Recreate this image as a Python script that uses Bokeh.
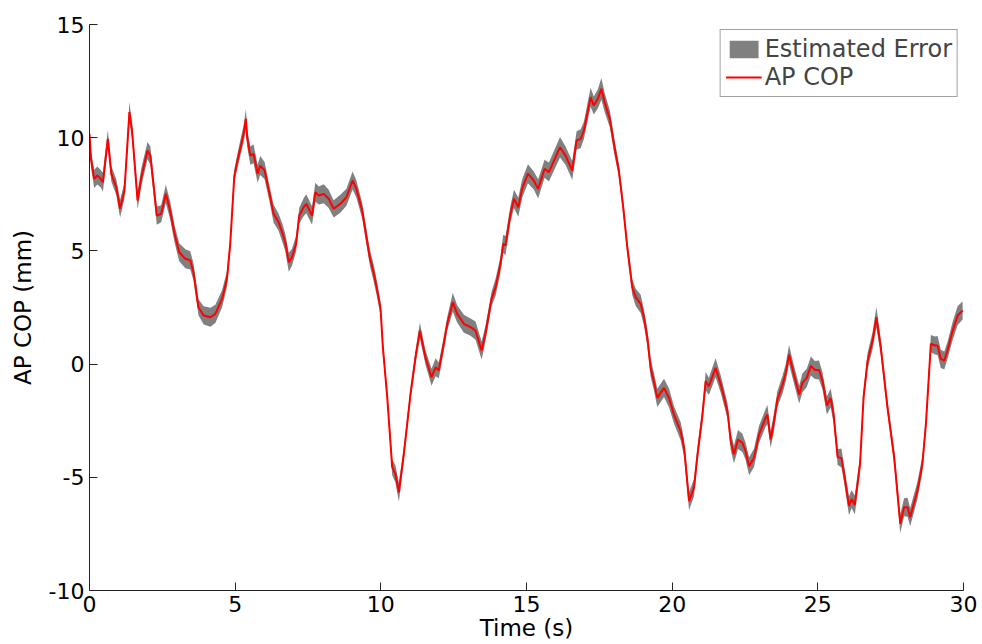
from bokeh.plotting import figure
from bokeh.models import Range1d, FixedTicker, Legend, LegendItem
from bokeh.embed import file_html
from bokeh.resources import INLINE

time_s = [
    0.00, 0.05, 0.16, 0.27, 0.39, 0.46, 0.63, 0.75, 0.92, 1.05,
    1.20, 1.37, 1.46, 1.65, 1.78, 1.99, 2.09, 2.31, 2.46, 2.62,
    2.77, 2.92, 3.08, 3.29, 3.46, 3.57, 3.74, 3.92, 4.15, 4.32,
    4.55, 4.72, 4.83, 4.97, 5.08, 5.29, 5.37, 5.41, 5.52, 5.63,
    5.77, 5.86, 6.01, 6.18, 6.32, 6.49, 6.63, 6.72, 6.84, 6.95,
    7.09, 7.20, 7.35, 7.44, 7.64, 7.75, 7.87, 8.04, 8.21, 8.38,
    8.61, 8.82, 9.03, 9.16, 9.36, 9.47, 9.62, 9.76, 9.87, 9.99,
    10.07, 10.22, 10.39, 10.50, 10.62, 10.79, 11.02, 11.19, 11.34, 11.53,
    11.74, 11.88, 11.99, 12.16, 12.28, 12.47, 12.62, 12.85, 13.08, 13.25,
    13.46, 13.59, 13.80, 13.94, 14.11, 14.20, 14.28, 14.45, 14.57, 14.72,
    14.85, 15.05, 15.25, 15.40, 15.62, 15.77, 16.15, 16.34, 16.57, 16.72,
    16.86, 16.97, 17.20, 17.31, 17.45, 17.57, 17.68, 17.86, 18.02, 18.17,
    18.32, 18.46, 18.63, 18.75, 18.92, 19.03, 19.15, 19.26, 19.37, 19.49,
    19.72, 19.89, 20.06, 20.29, 20.41, 20.58, 20.75, 20.87, 21.04, 21.15,
    21.26, 21.49, 21.67, 21.90, 22.01, 22.12, 22.26, 22.41, 22.52, 22.64,
    22.81, 22.98, 23.21, 23.27, 23.38, 23.50, 23.61, 23.79, 23.90, 24.01,
    24.18, 24.36, 24.47, 24.62, 24.76, 24.90, 25.04, 25.16, 25.31, 25.44,
    25.54, 25.68, 25.81, 25.90, 26.07, 26.16, 26.27, 26.45, 26.57, 26.71,
    26.88, 27.01, 27.16, 27.39, 27.62, 27.83, 27.96, 28.08, 28.17, 28.42,
    28.59, 28.71, 28.88, 29.02, 29.11, 29.22, 29.34, 29.45, 29.63, 29.80,
    29.97,
]

ap_cop = [
    10.17, 9.07, 8.18, 8.33, 8.18, 8.03, 9.95, 8.40, 7.81, 6.86,
    7.67, 11.13, 10.32, 7.23, 8.26, 9.43, 9.21, 6.56, 6.64, 7.52,
    6.78, 5.75, 4.94, 4.65, 4.58, 4.06, 2.51, 2.15, 2.07, 2.22,
    2.88, 3.77, 5.30, 8.30, 8.99, 10.17, 10.83, 10.02, 9.21, 9.29,
    8.41, 8.77, 8.55, 7.52, 6.64, 6.27, 5.75, 5.38, 4.50, 4.72,
    5.31, 6.56, 6.93, 7.08, 6.56, 7.59, 7.45, 7.52, 7.30, 6.86,
    7.08, 7.37, 8.11, 7.74, 6.78, 5.90, 4.72, 3.99, 3.30, 2.45,
    0.75, -1.46, -4.55, -4.85, -5.66, -3.96, -1.31, 0.30, 1.48, 0.30,
    -0.58, -0.14, -0.28, 0.90, 1.78, 2.73, 2.22, 1.78, 1.63, 1.48,
    0.60, 1.34, 2.88, 3.40, 4.43, 5.31, 5.24, 6.64, 7.30, 6.93,
    7.75, 8.41, 8.11, 7.74, 8.63, 8.48, 9.58, 9.21, 8.55, 9.88,
    9.95, 10.32, 11.79, 11.42, 11.72, 12.16, 11.57, 10.83, 9.58, 8.55,
    6.93, 5.16, 3.40, 2.95, 2.66, 2.07, 1.15, -0.16, -0.75, -1.49,
    -1.05, -1.49, -2.23, -2.96, -3.70, -6.05, -5.46, -3.99, -2.23, -0.75,
    -0.98, -0.16, -0.90, -2.08, -3.40, -3.99, -3.33, -3.48, -3.85, -4.51,
    -4.14, -3.11, -2.37, -2.23, -3.33, -2.52, -1.56, -0.90, -0.38, 0.42,
    -0.46, -1.34, -0.83, -0.61, -0.08, -0.26, -0.26, -0.74, -1.83, -1.50,
    -2.20, -4.11, -4.15, -4.85, -6.26, -5.96, -6.22, -4.40, -1.46, 0.16,
    1.04, 2.07, 0.75, -1.90, -4.11, -7.05, -6.32, -6.32, -6.76, -5.58,
    -4.40, -2.64, 0.90, 0.82, 0.82, 0.23, 0.16, 0.60, 1.48, 2.15,
    2.37,
]

est_error = [
    0.30, 0.35, 0.40, 0.40, 0.38, 0.42, 0.40, 0.35, 0.35, 0.40,
    0.35, 0.45, 0.35, 0.38, 0.40, 0.38, 0.40, 0.40, 0.38, 0.40,
    0.40, 0.38, 0.40, 0.42, 0.40, 0.38, 0.35, 0.40, 0.42, 0.40,
    0.38, 0.35, 0.30, 0.30, 0.32, 0.38, 0.45, 0.40, 0.40, 0.42,
    0.40, 0.42, 0.38, 0.35, 0.40, 0.38, 0.40, 0.38, 0.42, 0.38,
    0.35, 0.35, 0.40, 0.42, 0.40, 0.42, 0.40, 0.42, 0.40, 0.38,
    0.40, 0.38, 0.40, 0.38, 0.35, 0.35, 0.35, 0.38, 0.35, 0.30,
    0.28, 0.25, 0.35, 0.38, 0.42, 0.30, 0.28, 0.30, 0.35, 0.32,
    0.38, 0.40, 0.35, 0.32, 0.30, 0.42, 0.38, 0.40, 0.38, 0.40,
    0.40, 0.35, 0.32, 0.38, 0.35, 0.40, 0.42, 0.35, 0.40, 0.42,
    0.40, 0.42, 0.40, 0.42, 0.40, 0.42, 0.45, 0.40, 0.42, 0.40,
    0.42, 0.38, 0.42, 0.40, 0.42, 0.48, 0.42, 0.38, 0.35, 0.30,
    0.30, 0.30, 0.35, 0.38, 0.40, 0.35, 0.38, 0.40, 0.38, 0.40,
    0.40, 0.42, 0.38, 0.40, 0.38, 0.40, 0.38, 0.32, 0.35, 0.40,
    0.38, 0.42, 0.38, 0.35, 0.38, 0.40, 0.42, 0.40, 0.38, 0.40,
    0.40, 0.38, 0.40, 0.42, 0.38, 0.40, 0.35, 0.40, 0.38, 0.42,
    0.40, 0.40, 0.42, 0.40, 0.42, 0.40, 0.42, 0.38, 0.40, 0.42,
    0.40, 0.35, 0.42, 0.38, 0.42, 0.40, 0.42, 0.35, 0.30, 0.35,
    0.38, 0.45, 0.35, 0.30, 0.32, 0.42, 0.40, 0.42, 0.40, 0.38,
    0.35, 0.32, 0.38, 0.40, 0.42, 0.40, 0.40, 0.38, 0.40, 0.42,
    0.40,
]

x_ticks = [0, 5, 10, 15, 20, 25, 30]
y_ticks = [-10, -5, 0, 5, 10, 15]
y_tick_labels = ["-10", "-5", "0", "5", "10", "15"]

lower = [a - e for a, e in zip(ap_cop, est_error)]
upper = [a + e for a, e in zip(ap_cop, est_error)]

FONT = "DejaVu Sans"

p = figure(width=982, height=644, output_backend="svg", toolbar_location=None,
           x_range=Range1d(0, 30), y_range=Range1d(-10, 15),
           min_border_left=89, min_border_right=19, min_border_top=24,
           min_border_bottom=54)
p.outline_line_color = None
p.grid.visible = False
p.background_fill_color = "white"
p.border_fill_color = "white"

band = p.varea(x=time_s, y1=lower, y2=upper, fill_color="#808080", fill_alpha=1.0)
line = p.line(time_s, ap_cop, line_color="#ff0000", line_width=2)

for ax in (p.xaxis[0], p.yaxis[0]):
    ax.axis_line_color = "#222222"
    ax.axis_line_width = 1
    ax.major_tick_line_color = "#222222"
    ax.major_tick_in = 8
    ax.major_tick_out = 0
    ax.minor_tick_line_color = None
    ax.major_label_text_font = FONT
    ax.major_label_text_font_size = "22px"
    ax.major_label_text_color = "black"
    ax.axis_label_text_font = FONT
    ax.axis_label_text_font_size = "23px"
    ax.axis_label_text_font_style = "normal"
    ax.axis_label_text_color = "black"

p.xaxis.ticker = FixedTicker(ticks=x_ticks)
p.yaxis.ticker = FixedTicker(ticks=y_ticks)
p.yaxis.major_label_overrides = {t: s for t, s in zip(y_ticks, y_tick_labels)}
p.xaxis.axis_label = "Time (s)"
p.yaxis.axis_label = "AP COP (mm)"
p.xaxis.major_label_standoff = 5
p.yaxis.major_label_standoff = 5
p.xaxis.axis_label_standoff = 0
p.yaxis.axis_label_standoff = 10

legend = Legend(
    items=[LegendItem(label="Estimated Error", renderers=[band]),
           LegendItem(label="AP COP", renderers=[line])],
    location="top_right", margin=5, padding=5, spacing=0,
    glyph_width=36, glyph_height=22, label_standoff=3, label_height=25,
    label_text_font=FONT, label_text_font_size="24px",
    border_line_color="#444444", border_line_width=1,
    background_fill_color="white", background_fill_alpha=1.0,
)
p.add_layout(legend)

open("out.html", "w").write(file_html(p, INLINE))
